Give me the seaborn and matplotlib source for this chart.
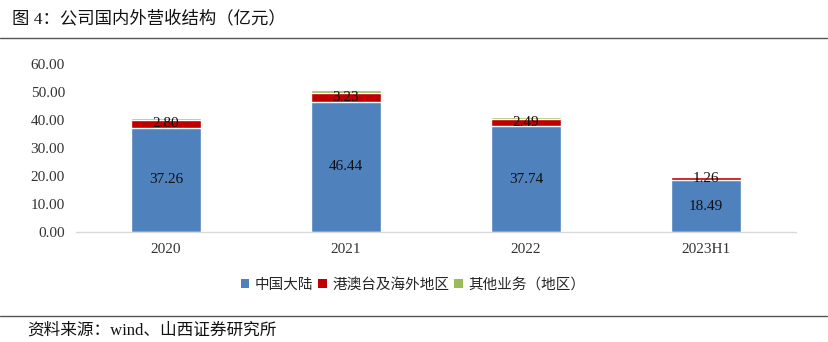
import matplotlib
matplotlib.use("Agg")
import matplotlib.pyplot as plt
import seaborn as sns
import numpy as np
import pandas as pd
from matplotlib.patches import Patch
from matplotlib.lines import Line2D

categories = ["2020", "2021", "2022", "2023H1"]
mainland = [37.26, 46.44, 37.74, 18.49]
overseas = [2.80, 3.23, 2.49, 1.26]
other = [0.75, 1.00, 0.75, 0.30]
series_names = ["中国大陆", "港澳台及海外地区", "其他业务（地区）"]
yticks = [0, 10, 20, 30, 40, 50, 60]

colors = ["#4F81BD", "#C00000", "#9BBB59"]

sns.set_theme(style="white")
plt.rcParams["font.family"] = ["Noto Sans CJK SC", "DejaVu Sans"]
serif = "Liberation Serif"
mixed = ["Liberation Serif", "Noto Sans CJK SC"]

fig = plt.figure(figsize=(8.29, 3.42), dpi=100)
ax = fig.add_axes([76 / 829, 110 / 342, 720 / 829, 168 / 342])

m = np.array(mainland)
o = np.array(overseas)
g = np.array(other)
df = pd.DataFrame({"cat": categories, "l1": m, "l2": m + o, "l3": m + o + g})

sns.barplot(data=df, x="cat", y="l3", color=colors[2], width=0.39, ax=ax, saturation=1)
sns.barplot(data=df, x="cat", y="l2", color=colors[1], width=0.39, ax=ax, saturation=1)
sns.barplot(data=df, x="cat", y="l1", color=colors[0], width=0.39, ax=ax, saturation=1)

for i in range(len(categories)):
    ax.text(i, m[i] / 2, f"{m[i]:.2f}", ha="center", va="center",
            fontsize=11, family=serif, color="#111111")
    ax.text(i, m[i] + o[i] / 2, f"{o[i]:.2f}", ha="center", va="center",
            fontsize=11, family=serif, color="#111111")

ax.set_ylim(0, 60)
ax.set_xlim(-0.5, len(categories) - 0.5)
ax.set_yticks(yticks)
ax.set_yticklabels([f"{v:.2f}" for v in yticks], family=serif, fontsize=11, color="#333333")
ax.set_xticks(range(len(categories)))
ax.set_xticklabels(categories, family=serif, fontsize=11, color="#333333")
ax.set_xlabel("")
ax.set_ylabel("")
ax.tick_params(axis="both", length=0)
ax.tick_params(axis="y", pad=8)
ax.tick_params(axis="x", pad=8)
for s in ["top", "right", "left"]:
    ax.spines[s].set_visible(False)
ax.spines["bottom"].set_color("#D9D9D9")
ax.spines["bottom"].set_linewidth(1.0)
ax.grid(False)

handles = [Patch(facecolor=c, edgecolor="none") for c in colors]
fig.legend(handles, series_names, loc="center", bbox_to_anchor=(413 / 829, 1 - 285 / 342),
           ncol=3, frameon=False, fontsize=10.5, handlelength=0.6, handleheight=0.6,
           handletextpad=0.4, columnspacing=0.3, borderaxespad=0)

fig.text(12 / 829, 1 - 19 / 342, "图 4：公司国内外营收结构（亿元）", fontsize=12.5,
         ha="left", va="center", color="#111111", family=mixed)
fig.add_artist(Line2D([0.0, 0.997], [1 - 38 / 342, 1 - 38 / 342], color="#555555", lw=1.0))
fig.add_artist(Line2D([0.0, 0.997], [1 - 316 / 342, 1 - 316 / 342], color="#555555", lw=1.0))
fig.text(27 / 829, 1 - 331 / 342, "资料来源：wind、山西证券研究所", fontsize=12,
         ha="left", va="center", color="#111111", family=mixed)

fig.savefig("out.png", dpi=100)
